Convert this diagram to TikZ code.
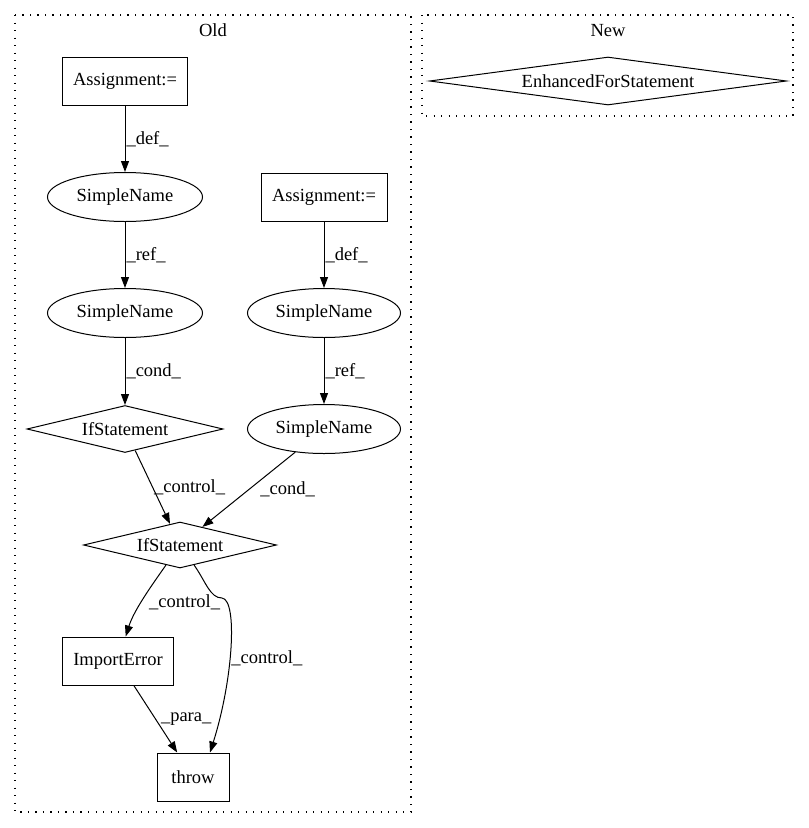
\documentclass[tikz,border=0pt]{standalone}
\usepackage{fontspec}
\setmainfont{Liberation Serif}
\usetikzlibrary{shapes.geometric}
\usetikzlibrary{arrows.meta}
\tikzstyle{box} = [draw, rectangle, minimum height=48pt, inner sep=0pt, line width=1pt]
\tikzstyle{oval} = [draw, ellipse, minimum width=155pt, minimum height=49pt, inner sep=0pt, line width=1pt]
\tikzstyle{cond} = [draw, diamond, aspect=4, minimum width=196pt, minimum height=47pt, inner sep=0pt, line width=1pt]
\tikzstyle{arr} = [line width=1pt, -{Stealth[length=11pt,width=8pt,inset=0pt]}]
\tikzstyle{lbl} = [inner sep=1pt, anchor=west]
\tikzstyle{cluster} = [line width=1.4pt, dash pattern=on 1.4pt off 6.1pt]

\begin{document}
\begin{tikzpicture}[x=1pt,y=-1pt,font=\fontsize{18.5pt}{21pt}\selectfont]
			\useasboundingbox (0,0) rectangle (809,828);
			\draw[cluster] (15,15) rectangle (411,812);
			\draw[cluster] (422,15) rectangle (793,116);
			\node (old) at (213,30) {Old};
			\node (new) at (608,31) {New};
			\node[cond, aspect=7.5, minimum width=357pt, minimum height=48pt] (efor) at (608,81) {EnhancedForStatement};
			\node[box, minimum width=125pt] (asgA) at (125,81) {Assignment:=};
			\node[oval] (snA) at (125,197) {SimpleName};
			\node[oval] (snB) at (125,313) {SimpleName};
			\node[cond] (ifA) at (125,429) {IfStatement};
			\node[box, minimum width=126pt] (asgB) at (324,197) {Assignment:=};
			\node[oval, minimum width=153pt] (snC) at (324,313) {SimpleName};
			\node[oval, minimum width=153pt] (snD) at (324,429) {SimpleName};
			\node[cond, minimum width=193pt, minimum height=46pt] (ifB) at (180,545) {IfStatement};
			\node[box, minimum width=111pt] (imp) at (118,661) {ImportError};
			\node[box, minimum width=72pt] (thr) at (193,777) {throw};
			\draw[arr] (asgA) --node[lbl]{\_def\_} (snA);
			\draw[arr] (snA) --node[lbl]{\_ref\_} (snB);
			\draw[arr] (snB) --node[lbl]{\_cond\_} (ifA);
			\draw[arr] (asgB) --node[lbl]{\_def\_} (snC);
			\draw[arr] (snC) --node[lbl]{\_ref\_} (snD);
			\draw[arr] (ifA) --node[lbl]{\_control\_} (ifB);
			\draw[arr] (snD) --node[lbl, xshift=10pt]{\_cond\_} (ifB);
			\draw[arr] (ifB) .. controls (152,585) and (134,610) .. node[lbl, xshift=4pt, yshift=-4pt]{\_control\_} (imp);
			\draw[arr] (ifB) .. controls (206,582) and (210,598) .. (222,598) .. controls (238,600) and (233,680) .. node[lbl, pos=0.55]{\_control\_} ([xshift=17pt]thr.north);
			\draw[arr] (imp) --node[lbl, xshift=4pt]{\_para\_} (thr);
		\end{tikzpicture}
\end{document}
